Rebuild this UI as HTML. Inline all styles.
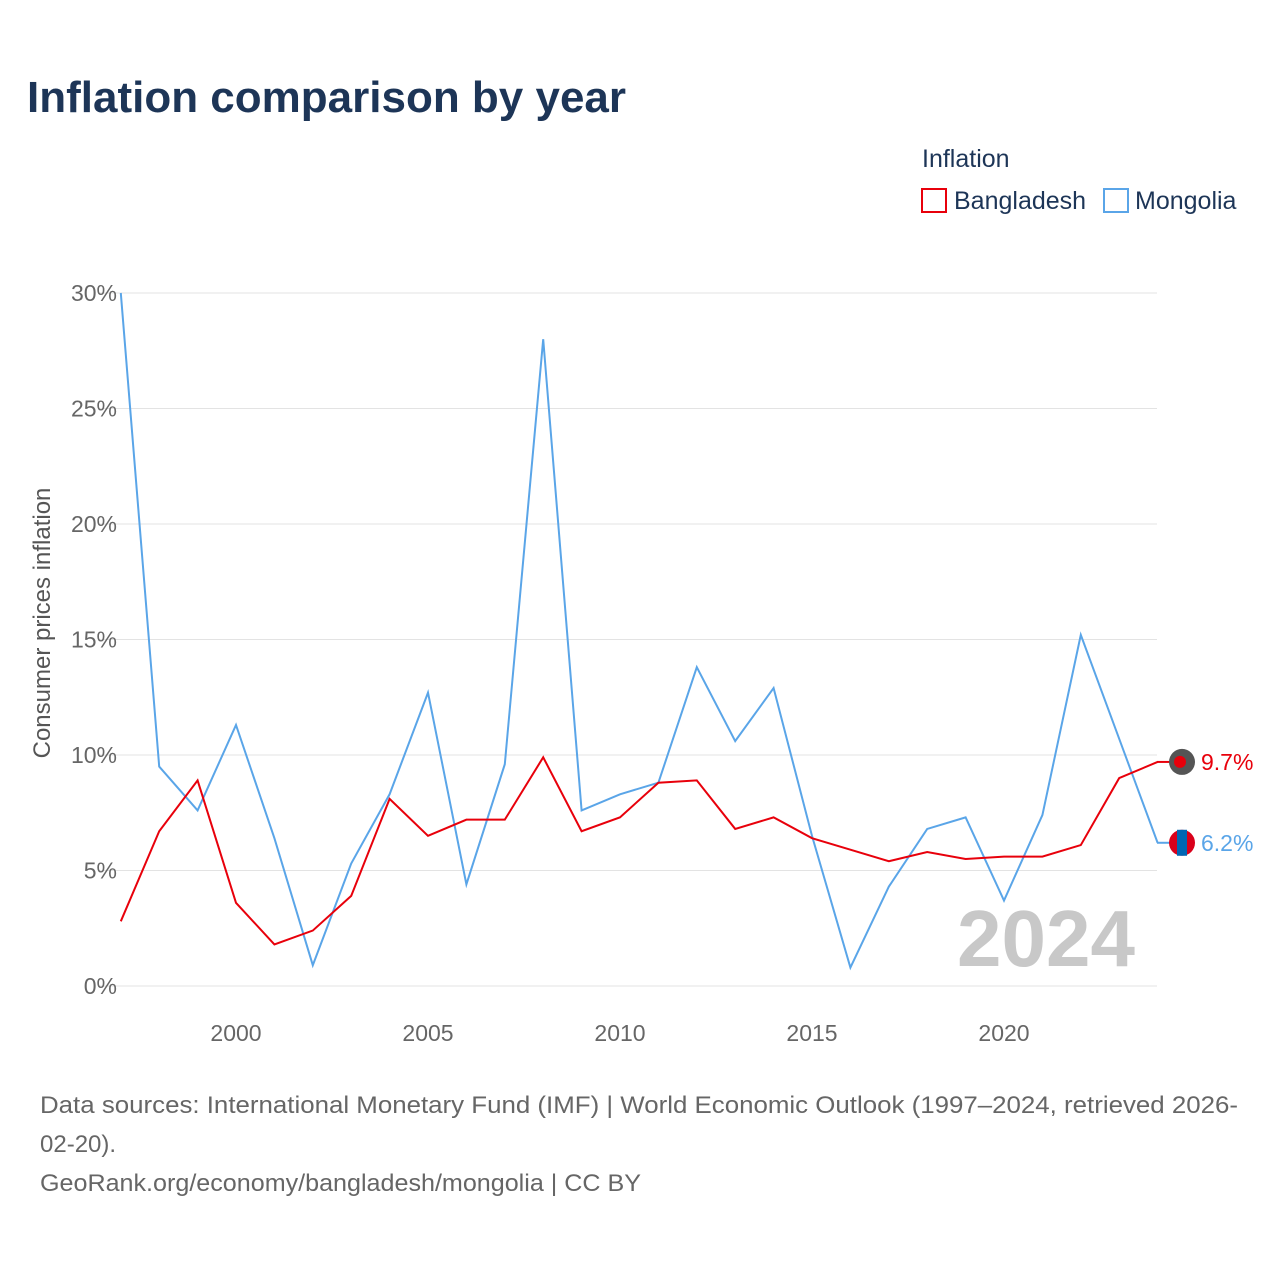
<!DOCTYPE html>
<html><head><meta charset="utf-8"><style>
body{margin:0;background:#fff;width:1280px;height:1280px;overflow:hidden;font-family:"Liberation Sans",sans-serif}
</style></head><body>
<svg id="chart" width="1280" height="1280" xmlns="http://www.w3.org/2000/svg">
<text x="27" y="112" font-size="44" font-weight="bold" fill="#1d3557">Inflation comparison by year</text>
<text x="922" y="167" font-size="25" fill="#1d3557">Inflation</text>
<g><rect x="922" y="189" width="24" height="23" fill="none" stroke="#e8000b" stroke-width="2"/><text x="954" y="209" font-size="25" fill="#1d3557">Bangladesh</text></g>
<g><rect x="1104" y="189" width="24" height="23" fill="none" stroke="#5aa5e8" stroke-width="2"/><text x="1135" y="209" font-size="25" fill="#1d3557">Mongolia</text></g>
<g id="grid"></g><g id="xt"></g><g id="lines"></g>
<text x="1135" y="966" font-size="80" font-weight="bold" fill="#c8c8c8" text-anchor="end">2024</text>
<text transform="translate(50,623) rotate(-90)" font-size="24" fill="#555" text-anchor="middle">Consumer prices inflation</text>
<text x="40" y="1113" font-size="24" fill="#666" textLength="1198" lengthAdjust="spacingAndGlyphs">Data sources: International Monetary Fund (IMF) | World Economic Outlook (1997–2024, retrieved 2026-</text>
<text x="40" y="1152" font-size="24" fill="#666">02-20).</text>
<text x="40" y="1191" font-size="24" fill="#666" textLength="601" lengthAdjust="spacingAndGlyphs">GeoRank.org/economy/bangladesh/mongolia | CC BY</text>
</svg>
<script>
const years=[1997,1998,1999,2000,2001,2002,2003,2004,2005,2006,2007,2008,2009,2010,2011,2012,2013,2014,2015,2016,2017,2018,2019,2020,2021,2022,2023,2024];
const bangladesh=[2.8,6.7,8.9,3.6,1.8,2.4,3.9,8.1,6.5,7.2,7.2,9.9,6.7,7.3,8.8,8.9,6.8,7.3,6.4,5.9,5.4,5.8,5.5,5.6,5.6,6.1,9.0,9.7];
const mongolia=[30,9.5,7.6,11.3,6.4,0.9,5.3,8.3,12.7,4.4,9.6,28.0,7.6,8.3,8.8,13.8,10.6,12.9,6.5,0.8,4.3,6.8,7.3,3.7,7.4,15.2,10.7,6.2];
const yTicks=[0,5,10,15,20,25,30];
const xTicks=[2000,2005,2010,2015,2020];
const NS="http://www.w3.org/2000/svg";
const X=y=>120.8+(y-1997)*38.4, Y=v=>986-v*23.1;
function mk(t,a,p){const e=document.createElementNS(NS,t);for(const k in a)e.setAttribute(k,a[k]);p.appendChild(e);return e;}
const g=document.getElementById('grid');
yTicks.forEach(t=>{
 const l=mk('line',{x1:98,x2:1157,y1:Y(t),y2:Y(t),stroke:'#e3e3e3','stroke-width':1},g);
 
 
 const tx=mk('text',{x:117,y:Y(t)+8,'font-size':23,fill:'#666','text-anchor':'end'},g);tx.textContent=t+'%';
 
 
});
const xg=document.getElementById('xt');
xTicks.forEach(t=>{
 const tx=mk('text',{x:X(t),y:1041,'font-size':23,fill:'#666','text-anchor':'middle'},xg);tx.textContent=t;
 
 
});
const lg=document.getElementById('lines');
function series(vals,col,name){
 const p=mk('polyline',{points:vals.map((v,i)=>X(years[i])+','+Y(v)).join(' '),fill:'none',stroke:col,'stroke-width':2},lg);
 
 
 const last=vals[vals.length-1],ly=Y(last);
 mk('line',{x1:1157,x2:1170,y1:ly,y2:ly,stroke:col,'stroke-width':2},lg);
 const c=mk('circle',{cx:1182,cy:ly,r:13,fill:name=='bangladesh'?'#555':'#d9001b'},lg);
 
 
 if(name=='bangladesh')mk('circle',{cx:1180,cy:ly,r:6,fill:'#e8000b'},lg);
 else mk('rect',{x:1177,y:ly-13,width:10,height:26,fill:'#0066b3'},lg);
 const t=mk('text',{x:1201,y:ly+8,'font-size':23,fill:col},lg);t.textContent=last+'%';
 
 
}
series(mongolia,'#5aa5e8','mongolia');
series(bangladesh,'#e8000b','bangladesh');
</script>
</body></html>
